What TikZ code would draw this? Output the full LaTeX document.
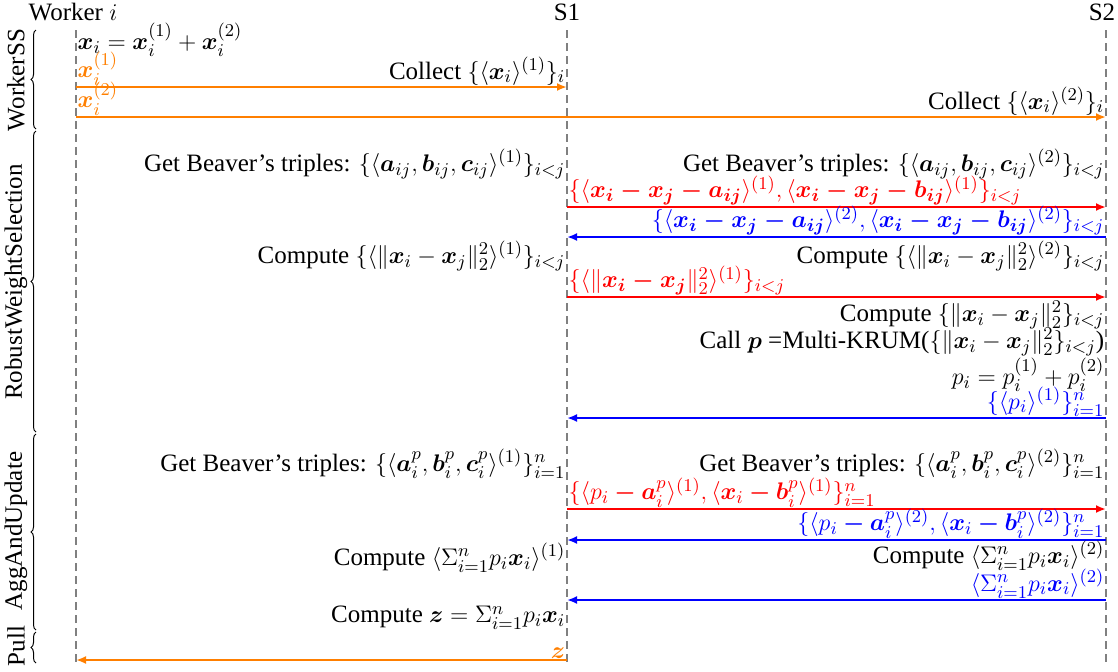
\documentclass[tikz,border=0pt]{standalone}
\usepackage{amsmath}
\usepackage{fontspec}
\setmainfont{Liberation Serif}
\usetikzlibrary{arrows.meta,decorations.pathreplacing}
\definecolor{msgorange}{RGB}{255,127,0}
\begin{document}
\begin{tikzpicture}[x=0.5pt,y=-0.5pt,line width=0.5pt,
  lifeline/.style={gray,dash pattern=on 4pt off 2.5pt,line width=0.6pt},
  msg/.style={line width=1pt,-{Latex[length=5pt,width=4pt]}},
  phase/.style={decorate,decoration={brace,amplitude=2.5pt}},
  lbl/.style={inner sep=0.6pt},
  every node/.style={font=\fontsize{12.5}{14}\selectfont}]
 \useasboundingbox (0,0) rectangle (1118,671);
 % lifelines
 \node (hw) at (73,12) {Worker $i$}; \node (hs1) at (567,12) {S1}; \node (hs2) at (1102,12) {S2};
 \coordinate (wt) at (76,30); \coordinate (wb) at (76,666);
 \coordinate (at) at (567,30); \coordinate (ab) at (567,666);
 \coordinate (bt) at (1106,30); \coordinate (bb) at (1106,666);
 \draw[lifeline] (wt)--(wb); \draw[lifeline] (at)--(ab); \draw[lifeline] (bt)--(bb);
 % phases
 \coordinate (p0) at (36,30); \coordinate (p1) at (36,129); \coordinate (p1b) at (36,131);
 \coordinate (p2) at (36,432); \coordinate (p2b) at (36,434); \coordinate (p3) at (36,630);
 \coordinate (p3b) at (36,632); \coordinate (p4) at (36,663);
 \draw[phase] (p1)--(p0); \draw[phase] (p2)--(p1b); \draw[phase] (p3)--(p2b); \draw[phase] (p4)--(p3b);
 \node[rotate=90] (ph1) at (16,80) {WorkerSS};
 \node[rotate=90] (ph2) at (16,282) {RobustWeightSelection};
 \node[rotate=90] (ph3) at (16,531) {AggAndUpdate};
 \node[rotate=90] (ph4) at (16,646) {Pull};
 % WorkerSS
 \node[lbl,anchor=west] (split) at (76,40) {$\boldsymbol{x}_i=\boldsymbol{x}_i^{(1)}+\boldsymbol{x}_i^{(2)}$};
 \coordinate (w1) at (76,87); \coordinate (a1) at (567,87);
 \draw[msg,msgorange] (w1)--(a1);
 \node[lbl,above right,text=msgorange] (m1l) at (w1) {$\boldsymbol{x}_i^{(1)}$};
 \node[lbl,above left] (m1r) at (a1) {Collect $\{\langle\boldsymbol{x}_i\rangle^{(1)}\}_i$};
 \coordinate (w2) at (76,117); \coordinate (b2) at (1106,117);
 \draw[msg,msgorange] (w2)--(b2);
 \node[lbl,above right,text=msgorange] (m2l) at (w2) {$\boldsymbol{x}_i^{(2)}$};
 \node[lbl,above left] (m2r) at (b2) {Collect $\{\langle\boldsymbol{x}_i\rangle^{(2)}\}_i$};
 % RobustWeightSelection
 \node[lbl,anchor=east] (t1a) at (567,164) {Get Beaver's triples: $\{\langle\boldsymbol{a}_{ij},\boldsymbol{b}_{ij},\boldsymbol{c}_{ij}\rangle^{(1)}\}_{i<j}$};
 \node[lbl,anchor=east] (t1b) at (1106,164) {Get Beaver's triples: $\{\langle\boldsymbol{a}_{ij},\boldsymbol{b}_{ij},\boldsymbol{c}_{ij}\rangle^{(2)}\}_{i<j}$};
 \coordinate (a3) at (567,207); \coordinate (b3) at (1106,207);
 \draw[msg,red] (a3)--(b3);
 \node[lbl,above right,text=red] (m3) at (a3) {$\{\langle\boldsymbol{x_i-x_j-a_{ij}}\rangle^{(1)},\langle\boldsymbol{x_i-x_j-b_{ij}}\rangle^{(1)}\}_{i<j}$};
 \coordinate (a4) at (567,237); \coordinate (b4) at (1106,237);
 \draw[msg,blue] (b4)--(a4);
 \node[lbl,above left,text=blue] (m4) at (b4) {$\{\langle\boldsymbol{x_i-x_j-a_{ij}}\rangle^{(2)},\langle\boldsymbol{x_i-x_j-b_{ij}}\rangle^{(2)}\}_{i<j}$};
 \node[lbl,anchor=east] (d1a) at (567,256) {Compute $\{\langle\|\boldsymbol{x}_i-\boldsymbol{x}_j\|_2^2\rangle^{(1)}\}_{i<j}$};
 \node[lbl,anchor=east] (d1b) at (1106,256) {Compute $\{\langle\|\boldsymbol{x}_i-\boldsymbol{x}_j\|_2^2\rangle^{(2)}\}_{i<j}$};
 \coordinate (a5) at (567,297); \coordinate (b5) at (1106,297);
 \draw[msg,red] (a5)--(b5);
 \node[lbl,above right,text=red] (m5) at (a5) {$\{\langle\|\boldsymbol{x_i-x_j}\|_2^2\rangle^{(1)}\}_{i<j}$};
 \node[lbl,anchor=east] (d2) at (1106,315) {Compute $\{\|\boldsymbol{x}_i-\boldsymbol{x}_j\|_2^2\}_{i<j}$};
 \node[lbl,anchor=east] (krum) at (1106,342) {Call $\boldsymbol{p}$ =Multi-KRUM($\{\|\boldsymbol{x}_i-\boldsymbol{x}_j\|_2^2\}_{i<j}$)};
 \node[lbl,anchor=east] (psplit) at (1106,375) {$p_i=p_i^{(1)}+p_i^{(2)}$};
 \coordinate (a6) at (567,418); \coordinate (b6) at (1106,418);
 \draw[msg,blue] (b6)--(a6);
 \node[lbl,above left,text=blue] (m6) at (b6) {$\{\langle p_i\rangle^{(1)}\}_{i=1}^n$};
 % AggAndUpdate
 \node[lbl,anchor=east] (t2a) at (567,464) {Get Beaver's triples: $\{\langle\boldsymbol{a}_i^p,\boldsymbol{b}_i^p,\boldsymbol{c}_i^p\rangle^{(1)}\}_{i=1}^n$};
 \node[lbl,anchor=east] (t2b) at (1106,464) {Get Beaver's triples: $\{\langle\boldsymbol{a}_i^p,\boldsymbol{b}_i^p,\boldsymbol{c}_i^p\rangle^{(2)}\}_{i=1}^n$};
 \coordinate (a7) at (567,509); \coordinate (b7) at (1106,509);
 \draw[msg,red] (a7)--(b7);
 \node[lbl,above right,text=red] (m7) at (a7) {$\{\langle p_i\mathbin{\boldsymbol{-}}\boldsymbol{a}_i^p\rangle^{(1)},\langle\boldsymbol{x}_i\mathbin{\boldsymbol{-}}\boldsymbol{b}_i^p\rangle^{(1)}\}_{i=1}^n$};
 \coordinate (a8) at (567,540); \coordinate (b8) at (1106,540);
 \draw[msg,blue] (b8)--(a8);
 \node[lbl,above left,text=blue] (m8) at (b8) {$\{\langle p_i\mathbin{\boldsymbol{-}}\boldsymbol{a}_i^p\rangle^{(2)},\langle\boldsymbol{x}_i\mathbin{\boldsymbol{-}}\boldsymbol{b}_i^p\rangle^{(2)}\}_{i=1}^n$};
 \node[lbl,anchor=east] (s1a) at (567,558) {Compute $\langle\Sigma_{i=1}^n p_i\boldsymbol{x}_i\rangle^{(1)}$};
 \node[lbl,anchor=east] (s1b) at (1106,556) {Compute $\langle\Sigma_{i=1}^n p_i\boldsymbol{x}_i\rangle^{(2)}$};
 \coordinate (a9) at (567,600); \coordinate (b9) at (1106,600);
 \draw[msg,blue] (b9)--(a9);
 \node[lbl,above left,text=blue] (m9) at (b9) {$\langle\Sigma_{i=1}^n p_i\boldsymbol{x}_i\rangle^{(2)}$};
 \node[lbl,anchor=east] (agg) at (567,618) {Compute $\boldsymbol{z}=\Sigma_{i=1}^n p_i\boldsymbol{x}_i$};
 % Pull
 \coordinate (a10) at (567,660); \coordinate (w10) at (76,660);
 \draw[msg,msgorange] (a10)--(w10);
 \node[lbl,above left,text=msgorange] (m10) at (a10) {$\boldsymbol{z}$};
\end{tikzpicture}
\end{document}
